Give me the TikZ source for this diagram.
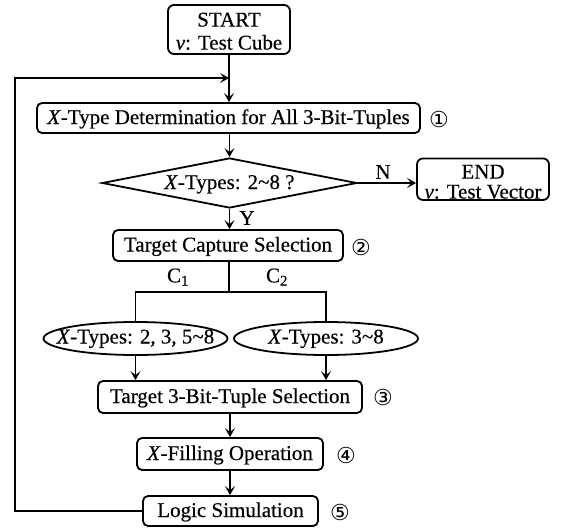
\documentclass[tikz,border=0pt]{standalone}
\usepackage{fontspec}
\setmainfont{Liberation Serif}[FakeBold=0.4]
\newfontfamily\circfont{DejaVu Sans}
\usetikzlibrary{shapes.geometric,arrows.meta}

\begin{document}
\begin{tikzpicture}[x=1pt, y=-1pt,
  font=\fontsize{21}{23}\selectfont,
  outline/.style={draw, line width=1.8pt},
  box/.style={outline, rounded corners=5pt, inner sep=0pt, text height=14pt, text depth=2pt},
  term/.style={outline, rounded corners=6pt, inner sep=0pt, align=center},
  oval/.style={outline, ellipse, inner sep=0pt, minimum width=184pt, minimum height=33pt, text height=13pt, text depth=3pt},
  decision/.style={outline, diamond, inner sep=0pt, aspect=5.1, minimum width=255pt, minimum height=50pt, text height=14pt, text depth=2pt},
  flow/.style={line width=1.3pt},
  arrow/.style={flow, -{Stealth[length=9pt, width=10pt, inset=4pt]}},
  lbl/.style={inner sep=0pt},
  circnum/.style={inner sep=0pt, font=\circfont\fontsize{22}{22}\selectfont},
]
\useasboundingbox (0,0) rectangle (561,527);

% process nodes
\node[term, minimum width=122pt, minimum height=49pt, font=\fontsize{21}{23}\selectfont]
  (start) at (229,29.5) {\rule{0pt}{17.4pt}START\\\textit{v}: Test Cube};
\node[box, minimum width=383pt, minimum height=30pt] (xtype) at (228.5,118)
  {\textit{X}-Type Determination for All 3-Bit-Tuples};
\node[decision] (dec) at (229.5,183) {\makebox[0pt]{\textit{X}-Types: 2\textasciitilde8 ?}};
\node[term, minimum width=132pt, minimum height=41.5pt, font=\fontsize{21}{20}\selectfont]
  (end) at (483,179.2) {\rule{0pt}{19pt}END\\\textit{v}: Test Vector};
\node[box, minimum width=230pt, minimum height=31pt] (capture) at (228,245.5) {Target Capture Selection};
\node[oval] (typesA) at (135.5,338.5) {\makebox[0pt]{\textit{X}-Types: 2, 3, 5\textasciitilde8}};
\node[oval] (typesB) at (326,338.5) {\makebox[0pt]{\textit{X}-Types: 3\textasciitilde8}};
\node[box, minimum width=264pt, minimum height=32pt] (tuple) at (230,397) {Target 3-Bit-Tuple Selection};
\node[box, minimum width=186pt, minimum height=32pt] (xfill) at (230,454) {\textit{X}-Filling Operation};
\node[box, minimum width=175pt, minimum height=30pt] (logic) at (230.5,511) {Logic Simulation};

% step numbers
\node[circnum] (n1) at (439,119) {①};
\node[circnum] (n2) at (361,247) {②};
\node[circnum] (n3) at (383,397) {③};
\node[circnum] (n4) at (346,455) {④};
\node[circnum] (n5) at (340,512) {⑤};

% connectors
\coordinate (join) at (229,78);
\coordinate (loop) at (15,78);
\coordinate (split) at (229,292);

\draw[arrow] (start.south) -- (start.south |- xtype.north);
\draw[arrow] (logic.west) -| (loop) -- (join);
\draw[arrow] (dec.north |- xtype.south) -- (dec.north);
\draw[arrow] (dec.east) -- (dec.east -| end.west);
\node[lbl] (nlab) at (383,172) {N};
\draw[arrow] (dec.south) -- (dec.south |- capture.north);
\node[lbl] (ylab) at (247,218) {Y};
\draw[flow] (split |- capture.south) -- (split);
\draw[flow] (typesA.north) |- (split) -| (typesB.north);
\node[lbl] (c1) at (178,277) {C\textsubscript{1}};
\node[lbl] (c2) at (277,277) {C\textsubscript{2}};
\draw[arrow] (typesA.south) -- (typesA.south |- tuple.north);
\draw[arrow] (typesB.south) -- (typesB.south |- tuple.north);
\draw[arrow] (tuple.south) -- (tuple.south |- xfill.north);
\draw[arrow] (xfill.south) -- (xfill.south |- logic.north);
\end{tikzpicture}
\end{document}
